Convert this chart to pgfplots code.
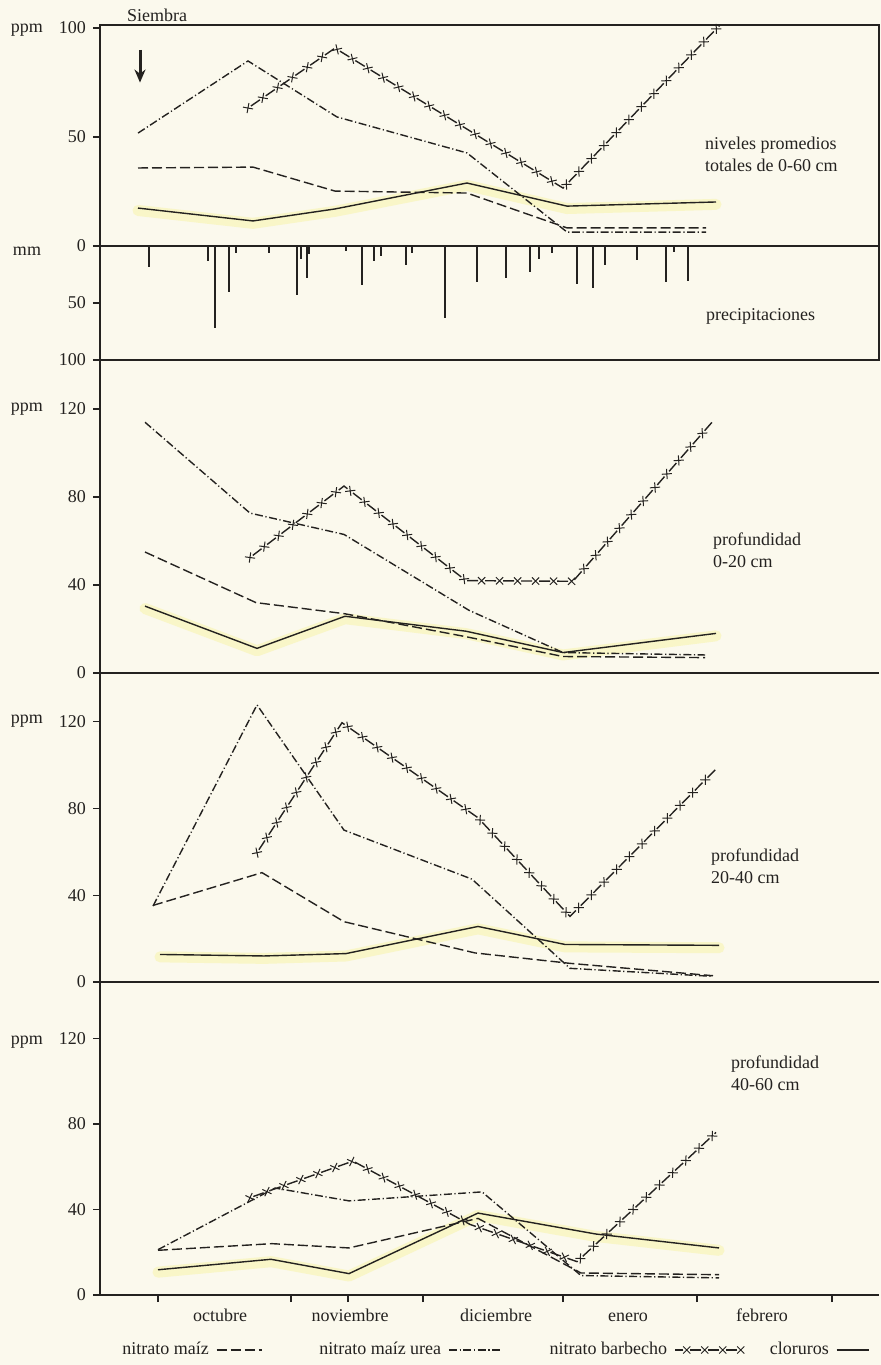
\documentclass[border=0pt]{standalone}
\usepackage{pgfplots}
\pgfplotsset{compat=1.18}
\usepackage{fontspec}
\setmainfont{Liberation Serif}
\usetikzlibrary{decorations.markings, arrows.meta}
\definecolor{paper}{RGB}{251,249,237}
\definecolor{ink}{RGB}{36,34,32}
\definecolor{hl}{RGB}{249,246,200}
\newcommand\lab{\fontsize{9}{11}\selectfont}

\pgfplotsset{
  panel/.style={
    scale only axis, width=389.5pt, xmin=100, xmax=879,
    xtick=\empty, ytick pos=left, tick align=outside,
    major tick length=3.5pt,
    axis line style={line width=0.9pt, draw=ink},
    every tick/.style={line width=0.7pt, draw=ink},
    tick label style={font=\lab, text=ink},
    /pgf/number format/assume math mode=true,
    clip=false,
  },
  base/.style={draw=ink, line width=0.7pt, mark=none},
  maiz/.style={base, dash pattern=on 5pt off 2pt},
  urea/.style={base, dash pattern=on 4pt off 1.3pt on 0.6pt off 1.3pt},
  barb/.style={base, dash pattern=on 5.5pt off 3.5pt, dash phase=7.25pt,
    postaction={decorate},
    decoration={markings, mark=between positions 0 and 1 step 9pt with
      {\draw[solid, line width=0.5pt, ink] (-1.8pt,-1.8pt) -- (1.8pt,1.8pt) (-1.8pt,1.8pt) -- (1.8pt,-1.8pt);}}},
  clor/.style={base, solid},
  hilite/.style={forget plot, draw=hl, line width=5.5pt, line join=round, line cap=round, yshift=-1.2pt, mark=none},
  legline/.style={legend image code/.code={\draw[##1] (0pt,0pt) -- (#1,0pt);}},
  barbleg/.style={legend image code/.code={\draw[##1] (33pt,0pt) -- (0pt,0pt);}},
}

\begin{document}
\begin{tikzpicture}
\fill[paper] (0pt,0pt) rectangle (440.5pt,-682.5pt);

% ---------- Panel 1: niveles promedios totales 0-60 cm
\begin{axis}[panel, at={(50pt,-123pt)}, anchor=south west, height=110.5pt,
  ymin=0, ymax=101.4, ytick={50,100}]
\addplot[hilite] coordinates {(138,17.4)(253,11.5)(335,17)(467,28.9)(567,18.3)(716,20.2)};
\addplot[maiz] coordinates {(138,35.8)(253,36.2)(335,25.2)(467,24.3)(567,8.3)(706,8.3)};
\addplot[urea] coordinates {(138,51.8)(248,84.9)(337,59.2)(467,42.7)(567,6.4)(706,6.4)};
\addplot[barb] coordinates {(248,63.3)(335,90.8)(563,26.6)(720,101.4)};
\addplot[clor] coordinates {(138,17.4)(253,11.5)(335,17)(467,28.9)(567,18.3)(716,20.2)};
\node[font=\lab, text=ink] at (axis cs:157,106) {Siembra};
\draw[ink, line width=1.5pt, -{Stealth[length=6.5pt,width=5.5pt]}] (axis cs:140,90) -- (axis cs:140,75);
\node[font=\lab, text=ink] at (axis cs:27,99) {ppm};
\node[font=\lab, text=ink, anchor=west, align=left] at (axis cs:698,42) {niveles promedios\\totales de 0-60 cm};
\end{axis}

% ---------- Panel 2: precipitaciones
\begin{axis}[panel, at={(50pt,-180pt)}, anchor=south west, height=57pt,
  ymin=0, ymax=100, y dir=reverse, ytick={0,50,100}]
\addplot[ycomb, draw=ink, line width=0.65pt, mark=none] coordinates {
(149,18.6)(208,13)(215,72)(229,40)(236,6)(269,6)(297,43)(301,11)(307,28)(309,7)
(346,4.4)(362,34)(374,13)(381,9)(406,16.5)(412,6)(445,63)(477,32)(506,28)(530,23)
(539,11)(552,6)(577,33)(593,36.8)(605,16.5)(637,12)(666,31.8)(674,5.3)(688,30.6)};
\node[font=\lab, text=ink] at (axis cs:27,5) {mm};
\node[font=\lab, text=ink, anchor=west] at (axis cs:699,62) {precipitaciones};
\end{axis}

% ---------- Panel 3: profundidad 0-20 cm
\begin{axis}[panel, at={(50pt,-336.5pt)}, anchor=south west, height=156.5pt,
  ymin=0, ymax=142.3, ytick={0,40,80,120}, axis y line*=left]
\addplot[hilite] coordinates {(145,30.4)(257,11.2)(345,25.8)(466,19)(563,9.3)(716,18)};
\addplot[maiz] coordinates {(145,55)(256,32)(344,27)(466,16.5)(563,7.5)(705,7)};
\addplot[urea] coordinates {(145,114)(250,72.7)(344,63)(469,28.5)(563,9.3)(705,8.2)};
\addplot[barb] coordinates {(250,52.5)(344,85)(466,42)(573,41.7)(712,114)};
\addplot[clor] coordinates {(145,30.4)(257,11.2)(345,25.8)(466,19)(563,9.3)(716,18)};
\node[font=\lab, text=ink] at (axis cs:27,120) {ppm};
\node[font=\lab, text=ink, anchor=west, align=left] at (axis cs:706,56) {profundidad\\0-20 cm};
\end{axis}

% ---------- Panel 4: profundidad 20-40 cm
\begin{axis}[panel, at={(50pt,-491pt)}, anchor=south west, height=154.5pt,
  ymin=0, ymax=142.4, ytick={0,40,80,120}, axis y line*=left]
\addplot[hilite] coordinates {(160,12.7)(264,12)(346,13.1)(478,25.6)(565,17.3)(719,16.9)};
\addplot[maiz] coordinates {(153,35.3)(262,50.4)(344,27.8)(475,13.4)(570,8.6)(713,2.9)};
\addplot[urea] coordinates {(153,35)(257,127.7)(344,70)(472,47.4)(570,6.3)(713,2.6)};
\addplot[barb] coordinates {(257,59.6)(342,119.5)(478,75.7)(570,30.2)(717,98.6)};
\addplot[clor] coordinates {(160,12.7)(264,12)(346,13.1)(478,25.6)(565,17.3)(719,16.9)};
\node[font=\lab, text=ink] at (axis cs:27,120) {ppm};
\node[font=\lab, text=ink, anchor=west, align=left] at (axis cs:704,53.5) {profundidad\\20-40 cm};
\end{axis}

% ---------- Panel 5: profundidad 40-60 cm
\begin{axis}[panel, at={(50pt,-647.5pt)}, anchor=south west, height=156.5pt,
  ymin=0, ymax=146.3, ytick={0,40,80,120}, axis y line*=left,
  xtick={158,291,348,423,563,697,832}, xticklabels={}, xtick pos=bottom,
  extra x ticks={220,350,496,628,762},
  extra x tick labels={octubre,noviembre,diciembre,enero,febrero},
  extra x tick style={major tick length=0pt, xticklabel style={anchor=base, yshift=-13pt}},
  legend columns=4, legend plot pos=right,
  legend style={at={(0.0244,-0.1757)}, anchor=west, draw=none, fill=none,
    font=\lab, text=ink, inner sep=0pt, nodes={inner sep=1.5pt},
    /tikz/every odd column/.style={column sep=2pt},
    /tikz/column 2/.style={column sep=27pt},
    /tikz/column 4/.style={column sep=22pt},
    /tikz/column 6/.style={column sep=11pt}},
]
\addplot[hilite] coordinates {(158,11.8)(271,16.7)(349,10)(478,38.3)(596,28.5)(719,22)};
\addplot[maiz, legline=22.5pt] coordinates {(158,20.9)(272,24)(349,22)(478,35.8)(581,10.3)(719,9.5)};
\addlegendentry{nitrato maíz}
\addplot[urea, legline=26.5pt] coordinates {(158,21.2)(275,50)(349,44)(482,48.2)(581,9.1)(719,8)};
\addlegendentry{nitrato maíz urea}
\addplot[barb, barbleg] coordinates {(250,45.5)(353,62.6)(470,33)(577,15.6)(716,76)};
\addlegendentry{nitrato barbecho}
\addplot[clor, legline=16pt] coordinates {(158,11.8)(271,16.7)(349,10)(478,38.3)(596,28.5)(719,22)};
\addlegendentry{cloruros}
\node[font=\lab, text=ink] at (axis cs:27,118) {ppm};
\node[font=\lab, text=ink, anchor=west, align=left] at (axis cs:724,103.7) {profundidad\\40-60 cm};
\end{axis}
\end{tikzpicture}
\end{document}
